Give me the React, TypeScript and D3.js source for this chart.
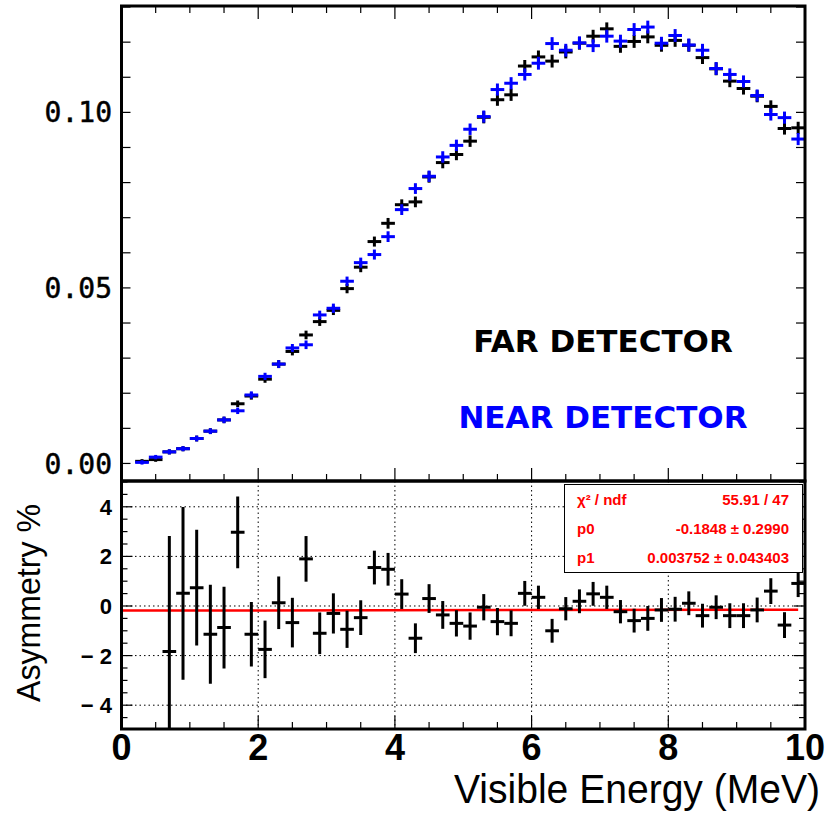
import { range, scaleLinear } from 'd3'

// bin centres, 0.2 MeV wide
const energies = [
  0.3, 0.5, 0.7, 0.9, 1.1, 1.3, 1.5, 1.7, 1.9, 2.1, 2.3, 2.5, 2.7, 2.9, 3.1, 3.3, 3.5,
  3.7, 3.9, 4.1, 4.3, 4.5, 4.7, 4.9, 5.1, 5.3, 5.5, 5.7, 5.9, 6.1, 6.3, 6.5, 6.7, 6.9,
  7.1, 7.3, 7.5, 7.7, 7.9, 8.1, 8.3, 8.5, 8.7, 8.9, 9.1, 9.3, 9.5, 9.7, 9.9,
]

const farValues = [
  0.0006, 0.0011, 0.0033, 0.0042, 0.0071, 0.0092, 0.0124, 0.017, 0.0192, 0.024, 0.0283,
  0.0319, 0.0366, 0.0404, 0.0436, 0.0498, 0.0559, 0.0632, 0.0684, 0.0737, 0.0745, 0.0816,
  0.0857, 0.088, 0.0918, 0.0986, 0.1036, 0.105, 0.1132, 0.1158, 0.1146, 0.1172, 0.1197,
  0.1217, 0.1238, 0.1188, 0.1202, 0.1215, 0.1191, 0.1205, 0.1191, 0.1156, 0.1124, 0.1089,
  0.1068, 0.1046, 0.1017, 0.0954, 0.0956,
]

const nearValues = [
  0.0003, 0.0018, 0.0033, 0.0042, 0.0071, 0.0092, 0.0124, 0.015, 0.0195, 0.0248, 0.0283,
  0.0329, 0.0338, 0.0423, 0.0442, 0.0519, 0.0572, 0.0595, 0.0646, 0.0723, 0.0783, 0.0818,
  0.0873, 0.0906, 0.0952, 0.0988, 0.1065, 0.1083, 0.1108, 0.114, 0.1196, 0.1177, 0.1198,
  0.119, 0.1217, 0.1203, 0.1236, 0.1243, 0.1197, 0.1219, 0.1192, 0.1177, 0.1125, 0.1108,
  0.1088, 0.1048, 0.0994, 0.0985, 0.0924,
]

const spectrumErrors = [
  0.0002, 0.0002, 0.0003, 0.0003, 0.0004, 0.0004, 0.0005, 0.0005, 0.0006, 0.0006, 0.0007,
  0.0007, 0.0008, 0.0008, 0.0009, 0.0009, 0.001, 0.001, 0.0011, 0.0011, 0.0011, 0.0012,
  0.0012, 0.0012, 0.0012, 0.0013, 0.0013, 0.0013, 0.0013, 0.0014, 0.0014, 0.0014, 0.0014,
  0.0014, 0.0014, 0.0014, 0.0014, 0.0014, 0.0014, 0.0014, 0.0014, 0.0014, 0.0014, 0.0013,
  0.0013, 0.0013, 0.0013, 0.0013, 0.0013,
]

// asymmetry starts at the 0.7 MeV bin
const asymEnergies = energies.slice(2)

const asymValues = [
  -1.84, 0.51, 0.74, -1.14, -0.87, 2.97, -1.14, -1.75, 0.13, -0.67, 1.9, -1.1, -0.3, -0.94,
  -0.47, 1.55, 1.48, 0.48, -1.3, 0.3, -0.36, -0.7, -0.81, -0.05, -0.63, -0.7, 0.51, 0.35,
  -1.0, -0.11, 0.19, 0.49, 0.35, -0.23, -0.59, -0.5, -0.16, -0.13, 0.11, -0.39, -0.05,
  -0.39, -0.39, -0.16, 0.6, -0.77, 0.91,
]

const asymErrors = [
  4.66, 3.48, 2.33, 2.0, 1.65, 1.45, 1.3, 1.16, 1.06, 1.0, 0.92, 0.84, 0.81, 0.75, 0.7,
  0.68, 0.66, 0.6, 0.6, 0.58, 0.56, 0.53, 0.55, 0.53, 0.55, 0.52, 0.5, 0.47, 0.48, 0.47,
  0.48, 0.48, 0.47, 0.47, 0.48, 0.5, 0.48, 0.5, 0.48, 0.48, 0.48, 0.5, 0.5, 0.5, 0.52,
  0.52, 0.55,
]

const fitP0 = -0.1848
const fitP1 = 0.003752

const statsRows = [
  { name: 'χ² / ndf', value: '55.91 / 47' },
  { name: 'p0', value: '-0.1848 ± 0.2990' },
  { name: 'p1', value: '0.003752 ± 0.043403' },
]

const spectrumTicks = [0, 0.05, 0.1]
const asymTicks = [4, 2, 0, -2, -4]
const energyTicks = [0, 2, 4, 6, 8, 10]

const width = 838
const height = 816
const binWidth = 0.2
const frameLeft = 121.5
const frameRight = 805
const topY0 = 6
const splitY = 481
const bottomY1 = 729

function App() {
  const x = scaleLinear().domain([0, 10]).range([frameLeft, frameRight])
  const ySpec = scaleLinear().domain([-0.005, 0.1303]).range([splitY, topY0])
  const yAsym = scaleLinear().domain([-4.96, 5.04]).range([bottomY1, splitY])

  const minorX = range(0, 10.01, 0.5)
  const minorSpec = range(0, 0.1301, 0.01)
  const minorAsym = range(-4.5, 5.01, 0.5)

  const spectrumPoints = (values: number[], color: string, key: string) =>
    values.map((v, i) => {
      const cx = x(energies[i])
      return (
        <g key={`${key}-${i}`} stroke={color} strokeWidth={3}>
          <line x1={x(energies[i] - binWidth / 2)} x2={x(energies[i] + binWidth / 2)} y1={ySpec(v)} y2={ySpec(v)} />
          <line x1={cx} x2={cx} y1={ySpec(v - spectrumErrors[i]) + 1.5} y2={ySpec(v + spectrumErrors[i]) - 1.5} />
        </g>
      )
    })

  return (
    <svg
      width={width}
      height={height}
      viewBox={`0 0 ${width} ${height}`}
      style={{ position: 'absolute', left: 0, top: 0, background: '#fff' }}
    >
      <rect width={width} height={height} fill="#fff" />

      {/* bottom panel grid */}
      <g stroke="#000" strokeWidth={1} strokeDasharray="1.5,3">
        {asymTicks.map((t) => (
          <line key={`gh${t}`} x1={frameLeft} x2={frameRight} y1={yAsym(t)} y2={yAsym(t)} />
        ))}
        {[2, 4, 6, 8].map((t) => (
          <line key={`gv${t}`} x1={x(t)} x2={x(t)} y1={splitY} y2={bottomY1} />
        ))}
      </g>

      {/* spectrum */}
      {spectrumPoints(farValues, '#000', 'far')}
      {spectrumPoints(nearValues, '#0000ff', 'near')}

      {/* asymmetry */}
      <defs>
        <clipPath id="asym-clip">
          <rect x={frameLeft} y={splitY} width={frameRight - frameLeft} height={bottomY1 - splitY} />
        </clipPath>
      </defs>
      <g clipPath="url(#asym-clip)">
        <line
          x1={x(0)}
          x2={x(9.9)}
          y1={yAsym(fitP0)}
          y2={yAsym(fitP0 + fitP1 * 9.9)}
          stroke="#ff0000"
          strokeWidth={2.5}
        />
        {asymValues.map((v, i) => {
          const e = asymEnergies[i]
          return (
            <g key={`a${i}`} stroke="#000" strokeWidth={3}>
              <line x1={x(e - binWidth / 2)} x2={x(e + binWidth / 2)} y1={yAsym(v)} y2={yAsym(v)} />
              <line x1={x(e)} x2={x(e)} y1={yAsym(v - asymErrors[i])} y2={yAsym(v + asymErrors[i])} />
            </g>
          )
        })}
      </g>

      {/* ticks */}
      <g stroke="#000" strokeWidth={1.2}>
        {minorX.map((t) => {
          const len = t % 2 === 0 ? 13 : 7
          return (
            <g key={`tx${t}`}>
              <line x1={x(t)} x2={x(t)} y1={topY0} y2={topY0 + len} />
              <line x1={x(t)} x2={x(t)} y1={splitY} y2={splitY - len} />
              <line x1={x(t)} x2={x(t)} y1={bottomY1} y2={bottomY1 - len} />
            </g>
          )
        })}
        {minorSpec.map((t) => (
          <g key={`ts${t}`}>
            <line x1={frameLeft} x2={frameLeft + 9} y1={ySpec(t)} y2={ySpec(t)} />
            <line x1={frameRight} x2={frameRight - 9} y1={ySpec(t)} y2={ySpec(t)} />
          </g>
        ))}
        {minorAsym.map((t) => {
          const len = Math.round(t) === t && t % 2 === 0 ? 11 : 6
          return (
            <g key={`ta${t}`}>
              <line x1={frameLeft} x2={frameLeft + len} y1={yAsym(t)} y2={yAsym(t)} />
              <line x1={frameRight} x2={frameRight - len} y1={yAsym(t)} y2={yAsym(t)} />
            </g>
          )
        })}
      </g>

      {/* frames */}
      <rect
        x={frameLeft}
        y={topY0}
        width={frameRight - frameLeft}
        height={splitY - topY0}
        fill="none"
        stroke="#000"
        strokeWidth={3}
      />
      <rect
        x={frameLeft}
        y={splitY}
        width={frameRight - frameLeft}
        height={bottomY1 - splitY}
        fill="none"
        stroke="#000"
        strokeWidth={3}
      />

      {/* stats box */}
      <g>
        <rect x={564.5} y={484.5} width={238} height={88} fill="#fff" stroke="#000" strokeWidth={1} />
        {statsRows.map((row, i) => (
          <g
            key={row.name}
            fill="#ff0000"
            fontFamily="Liberation Sans, Arial, sans-serif"
            fontWeight="bold"
            fontSize={15}
          >
            <text x={577} y={505 + i * 29}>
              {row.name}
            </text>
            <text x={789} y={505 + i * 29} textAnchor="end">
              {row.value}
            </text>
          </g>
        ))}
      </g>

      {/* detector labels */}
      <g fontFamily="DejaVu Sans, sans-serif" fontWeight="bold" fontSize={31} textAnchor="middle">
        <text x={603} y={352} fill="#000">
          FAR DETECTOR
        </text>
        <text x={603} y={428} fill="#0000ff">
          NEAR DETECTOR
        </text>
      </g>

      {/* tick labels */}
      {spectrumTicks.map((t) => (
        <text
          key={`ls${t}`}
          x={112}
          y={ySpec(t)}
          dy="0.36em"
          textAnchor="end"
          fontFamily="DejaVu Sans Mono, monospace"
          fontSize={28}
          stroke="#000"
          strokeWidth={0.5}
        >
          {t.toFixed(2)}
        </text>
      ))}
      {asymTicks.map((t) => (
        <text
          key={`la${t}`}
          x={112}
          y={yAsym(t)}
          dy="0.36em"
          textAnchor="end"
          fontFamily="Liberation Sans, Arial, sans-serif"
          fontWeight="bold"
          fontSize={22}
        >
          {t < 0 ? `− ${Math.abs(t)}` : t}
        </text>
      ))}
      {energyTicks.map((t) => (
        <text
          key={`le${t}`}
          x={x(t)}
          y={760}
          textAnchor="middle"
          fontFamily="Liberation Sans Narrow, Arial Narrow, sans-serif"
          fontWeight="bold"
          fontSize={36}
        >
          {t}
        </text>
      ))}

      {/* axis titles */}
      <text
        x={820}
        y={803}
        textAnchor="end"
        fontFamily="Liberation Sans Narrow, Arial Narrow, sans-serif"
        fontSize={40}
        textLength={366}
        lengthAdjust="spacingAndGlyphs"
      >
        Visible Energy (MeV)
      </text>
      <text
        transform="translate(40, 603) rotate(-90)"
        textAnchor="middle"
        fontFamily="Liberation Sans, Arial, sans-serif"
        fontSize={33}
        textLength={198}
        lengthAdjust="spacingAndGlyphs"
      >
        Asymmetry %
      </text>
    </svg>
  )
}

export default App
